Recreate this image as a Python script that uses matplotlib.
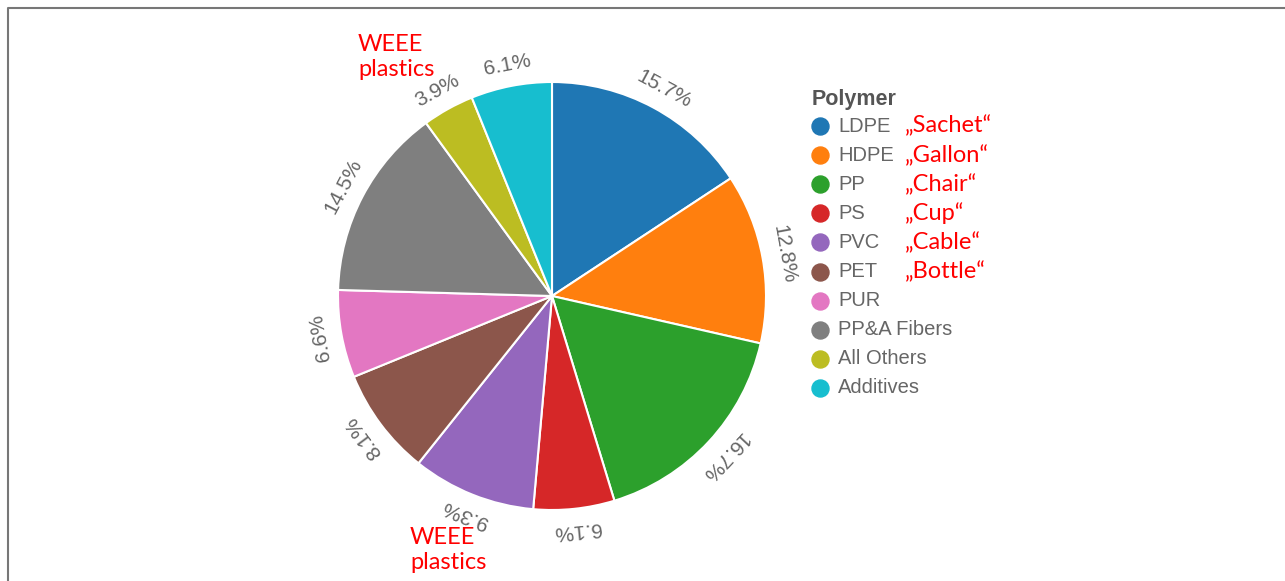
import matplotlib.pyplot as plt
import numpy as np

# Polymer shares (%)
polymers = ['LDPE', 'HDPE', 'PP', 'PS', 'PVC', 'PET', 'PUR', 'PP&A Fibers', 'All Others', 'Additives']
shares = [15.7, 12.8, 16.7, 6.1, 9.3, 8.1, 6.6, 14.5, 3.9, 6.1]
examples = ['„Sachet“', '„Gallon“', '„Chair“', '„Cup“', '„Cable“', '„Bottle“']
colors = ['#1f77b4', '#ff7f0e', '#2ca02c', '#d62728', '#9467bd',
          '#8c564b', '#e377c2', '#7f7f7f', '#bcbd22', '#17becf']

W, H = 1285, 581
fig = plt.figure(figsize=(W / 100, H / 100), dpi=100)

# overlay axes in pixel coordinates for frame, legend and notes
lax = fig.add_axes([0, 0, 1, 1])
lax.set_xlim(0, W)
lax.set_ylim(H, 0)
lax.axis('off')
lax.plot([7.5, 7.5, W], [H, 8, 8], color='#777777', lw=1.5, solid_capstyle='butt')

# pie
cx, cy, r = 552, 296, 214
ax = fig.add_axes([(cx - r) / W, (H - cy - r) / H, 2 * r / W, 2 * r / H])
wedges, _ = ax.pie(shares, colors=colors, startangle=90, counterclock=False,
                   wedgeprops=dict(edgecolor='white', linewidth=1.5))
ax.set_xlim(-1, 1)
ax.set_ylim(-1, 1)
ax.set_aspect('auto')

for w, v in zip(wedges, shares):
    mid = (w.theta1 + w.theta2) / 2
    a = np.deg2rad(mid)
    ax.text(1.1 * np.cos(a), 1.1 * np.sin(a), f'{v}%', rotation=mid - 90,
            rotation_mode='anchor', ha='center', va='center',
            fontsize=15, color='#666666', family='Liberation Sans')

# legend
lax.text(812, 100, 'Polymer', fontsize=15.5, fontweight='bold', color='#555555',
         family='Liberation Sans', va='center', ha='left')
row0, step = 126, 29.1
for i, (name, c) in enumerate(zip(polymers, colors)):
    y = row0 + i * step
    lax.scatter([820], [y], s=150, color=c, zorder=3)
    lax.text(838, y, name, fontsize=14.5, color='#666666', family='Liberation Sans',
             va='center', ha='left')
for i, ex in enumerate(examples):
    lax.text(905, row0 + i * step, ex, fontsize=17, color='red', family='Lato',
             va='center', ha='left')

# WEEE notes
lax.text(358, 57, 'WEEE\nplastics', fontsize=17, color='red', family='Lato',
         va='center', ha='left', linespacing=1.25)
lax.text(410, 550, 'WEEE\nplastics', fontsize=17, color='red', family='Lato',
         va='center', ha='left', linespacing=1.25)

fig.savefig('out.png', dpi=100, facecolor='white')
